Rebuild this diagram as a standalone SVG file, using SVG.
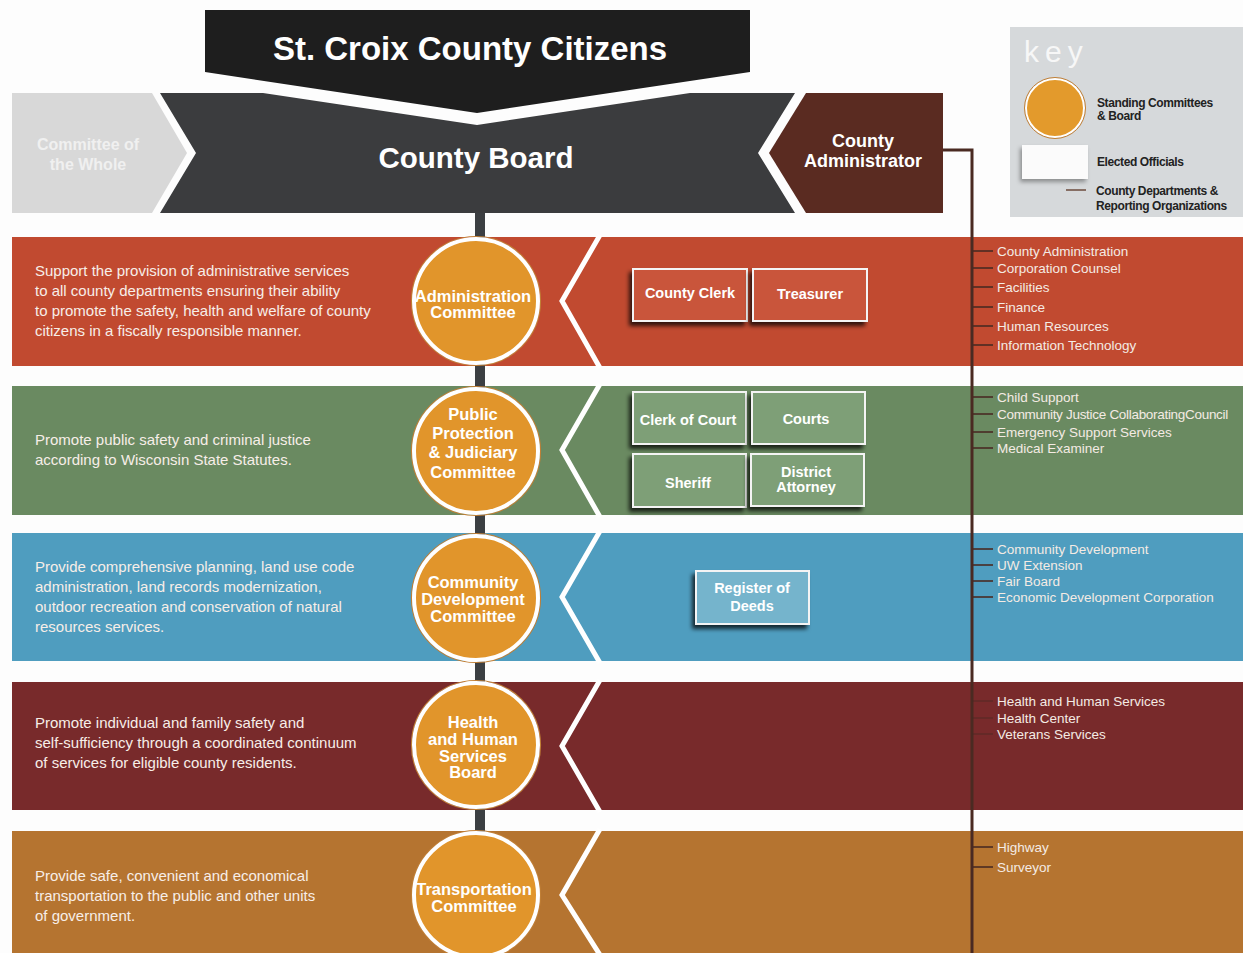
<svg xmlns="http://www.w3.org/2000/svg" width="1243" height="953" viewBox="0 0 1243 953">
  <defs>
    <filter id="shadow" x="-20%" y="-20%" width="140%" height="160%">
      <feDropShadow dx="-3" dy="4" stdDeviation="2" flood-color="#000" flood-opacity="0.75"/>
    </filter>
    <filter id="softShadow" x="-20%" y="-20%" width="140%" height="160%">
      <feDropShadow dx="-2" dy="3" stdDeviation="2" flood-color="#000" flood-opacity="0.35"/>
    </filter>
    <style>
      text { font-family: "Liberation Sans", Arial, sans-serif; }
      .band-text { fill: #f7eee8; font-size: 15px; }
      .dept { fill: #f4ebe4; font-size: 13.5px; }
      .tick { stroke: #4a2a22; stroke-width: 1.6; }
      .circle { fill: #e1952b; stroke: #ffffff; stroke-width: 4; }
      .ring { fill: none; stroke: #c07f36; stroke-width: 1.2; }
      .ctext { fill: #ffffff; font-size: 16.5px; font-weight: bold; text-anchor: middle; }
      .box { stroke: #f4f4f4; stroke-width: 2; filter: url(#shadow); }
      .btext { fill: #ffffff; font-size: 14.5px; font-weight: bold; text-anchor: middle; }
      .chev { fill: none; stroke: #ffffff; stroke-width: 5; }
      .key-label { fill: #222222; font-size: 12px; font-weight: bold; letter-spacing: -0.4px; }
    </style>
  </defs>

  <rect width="1243" height="953" fill="#fdfdfd"/>

  <!-- Horizontal committee bands -->
  <g id="bands">
    <rect x="12" y="237" width="1231" height="129" fill="#c14a30"/>
    <rect x="12" y="386" width="1231" height="129" fill="#6a8a61"/>
    <rect x="12" y="533" width="1231" height="128" fill="#4f9dbf"/>
    <rect x="12" y="682" width="1231" height="128" fill="#782a2b"/>
    <rect x="12" y="831" width="1231" height="122" fill="#b57430"/>
    <polyline class="chev" points="600,235 562,301 600,368"/>
    <polyline class="chev" points="600,384 562,450 600,517"/>
    <polyline class="chev" points="600,531 562,597 600,663"/>
    <polyline class="chev" points="600,680 562,746 600,812"/>
    <polyline class="chev" points="600,829 562,895 600,955"/>
  </g>

  <!-- Connectors -->
  <g id="connectors">
    <line x1="480" y1="210" x2="480" y2="900" stroke="#3c3f42" stroke-width="10"/>
    <polyline points="943,150 972,150 972,953" fill="none" stroke="#4a2a22" stroke-width="3"/>
    <line class="tick" x1="972" y1="251" x2="993" y2="251"/>
    <line class="tick" x1="972" y1="268" x2="993" y2="268"/>
    <line class="tick" x1="972" y1="287" x2="993" y2="287"/>
    <line class="tick" x1="972" y1="307" x2="993" y2="307"/>
    <line class="tick" x1="972" y1="326" x2="993" y2="326"/>
    <line class="tick" x1="972" y1="345" x2="993" y2="345"/>
    <line class="tick" x1="972" y1="397" x2="993" y2="397"/>
    <line class="tick" x1="972" y1="414" x2="993" y2="414"/>
    <line class="tick" x1="972" y1="432" x2="993" y2="432"/>
    <line class="tick" x1="972" y1="448" x2="993" y2="448"/>
    <line class="tick" x1="972" y1="549" x2="993" y2="549"/>
    <line class="tick" x1="972" y1="565" x2="993" y2="565"/>
    <line class="tick" x1="972" y1="581" x2="993" y2="581"/>
    <line class="tick" x1="972" y1="597" x2="993" y2="597"/>
    <line class="tick" x1="972" y1="701" x2="993" y2="701" opacity="0.5"/>
    <line class="tick" x1="972" y1="718" x2="993" y2="718" opacity="0.5"/>
    <line class="tick" x1="972" y1="734" x2="993" y2="734" opacity="0.5"/>
    <line class="tick" x1="972" y1="847" x2="993" y2="847"/>
    <line class="tick" x1="972" y1="867" x2="993" y2="867"/>
  </g>

  <!-- Citizens banner -->
  <g id="citizens">
    <polygon points="205,10 750,10 750,72 477,113 205,72" fill="#1e1e1e"/>
    <text x="470" y="60" fill="#ffffff" font-size="33" font-weight="bold" text-anchor="middle">St. Croix County Citizens</text>
  </g>

  <!-- Committee of the Whole -->
  <g id="committee-of-the-whole">
    <polygon points="12,93 152,93 187,153 152,213 12,213" fill="#d8d8d8"/>
    <text x="88" y="150" fill="#f0f0f0" font-size="16" font-weight="bold" text-anchor="middle">Committee of</text>
    <text x="88" y="170" fill="#f0f0f0" font-size="16" font-weight="bold" text-anchor="middle">the Whole</text>
  </g>

  <!-- County Board -->
  <g id="county-board">
    <polygon points="160,93 263,93 477,125 690,93 795,93 758,153 795,213 160,213 196,153" fill="#3b3c3e"/>
    <text x="476" y="168" fill="#ffffff" font-size="29.5" font-weight="bold" text-anchor="middle">County Board</text>
  </g>

  <!-- County Administrator -->
  <g id="county-administrator">
    <polygon points="806,93 943,93 943,213 806,213 769,153" fill="#5a2b21"/>
    <text x="863" y="147" fill="#ffffff" font-size="18" font-weight="bold" text-anchor="middle">County</text>
    <text x="863" y="167" fill="#ffffff" font-size="18" font-weight="bold" text-anchor="middle">Administrator</text>
  </g>

  <!-- Key -->
  <g id="key">
    <rect x="1010" y="27" width="233" height="190" fill="#d6d9db"/>
    <text x="1024" y="62" fill="#f7f7f7" font-size="30" letter-spacing="6">key</text>
    <circle cx="1055" cy="108" r="29" fill="#e39a2c" stroke="#ffffff" stroke-width="2"/>
    <circle cx="1055" cy="108" r="30.5" fill="none" stroke="#c07f36" stroke-width="1"/>
    <text class="key-label" x="1097" y="107">Standing Committees</text>
    <text class="key-label" x="1097" y="120">&amp; Board</text>
    <rect x="1022" y="145" width="66" height="34" fill="#fbfbfb" filter="url(#softShadow)"/>
    <text class="key-label" x="1097" y="166">Elected Officials</text>
    <line x1="1066" y1="190" x2="1086" y2="190" stroke="#6b4a3c" stroke-width="1.5"/>
    <text class="key-label" x="1096" y="195">County Departments &amp;</text>
    <text class="key-label" x="1096" y="210">Reporting Organizations</text>
  </g>

  <!-- Administration Committee -->
  <g id="administration">
    <text class="band-text" x="35" y="276">Support the provision of administrative services</text>
    <text class="band-text" x="35" y="296">to all county departments ensuring their ability</text>
    <text class="band-text" x="35" y="316">to promote the safety, health and welfare of county</text>
    <text class="band-text" x="35" y="336">citizens in a fiscally responsible manner.</text>
    <circle class="ring" cx="476" cy="301" r="64.5"/>
    <circle class="circle" cx="476" cy="301" r="62"/>
    <text class="ctext" x="473" y="302">Administration</text>
    <text class="ctext" x="473" y="318">Committee</text>
  </g>
  <g id="county-clerk">
    <rect class="box" x="633" y="269" width="114" height="52" fill="#c9553a"/>
    <text class="btext" x="690" y="298">County Clerk</text>
  </g>
  <g id="treasurer">
    <rect class="box" x="753" y="269" width="114" height="52" fill="#c9553a"/>
    <text class="btext" x="810" y="299">Treasurer</text>
  </g>
  <g id="administration-departments">
    <text class="dept" x="997" y="256">County Administration</text>
    <text class="dept" x="997" y="273">Corporation Counsel</text>
    <text class="dept" x="997" y="292">Facilities</text>
    <text class="dept" x="997" y="312">Finance</text>
    <text class="dept" x="997" y="331">Human Resources</text>
    <text class="dept" x="997" y="350">Information Technology</text>
  </g>

  <!-- Public Protection & Judiciary Committee -->
  <g id="public-protection">
    <text class="band-text" x="35" y="445">Promote public safety and criminal justice</text>
    <text class="band-text" x="35" y="465">according to Wisconsin State Statutes.</text>
    <circle class="ring" cx="476" cy="451" r="64.5"/>
    <circle class="circle" cx="476" cy="451" r="62"/>
    <text class="ctext" x="473" y="420">Public</text>
    <text class="ctext" x="473" y="439">Protection</text>
    <text class="ctext" x="473" y="458">&amp; Judiciary</text>
    <text class="ctext" x="473" y="478">Committee</text>
  </g>
  <g id="clerk-of-court">
    <rect class="box" x="633" y="392" width="113" height="52" fill="#7e9f77"/>
    <text class="btext" x="688" y="425">Clerk of Court</text>
  </g>
  <g id="courts">
    <rect class="box" x="752" y="392" width="113" height="52" fill="#7e9f77"/>
    <text class="btext" x="806" y="424">Courts</text>
  </g>
  <g id="sheriff">
    <rect class="box" x="633" y="454" width="113" height="53" fill="#7e9f77"/>
    <text class="btext" x="688" y="488">Sheriff</text>
  </g>
  <g id="district-attorney">
    <rect class="box" x="751" y="454" width="113" height="52" fill="#7e9f77"/>
    <text class="btext" x="806" y="477">District</text>
    <text class="btext" x="806" y="492">Attorney</text>
  </g>
  <g id="public-protection-departments">
    <text class="dept" x="997" y="402">Child Support</text>
    <text class="dept" x="997" y="419" letter-spacing="-0.3">Community Justice CollaboratingCouncil</text>
    <text class="dept" x="997" y="437">Emergency Support Services</text>
    <text class="dept" x="997" y="453">Medical Examiner</text>
  </g>

  <!-- Community Development Committee -->
  <g id="community-development">
    <text class="band-text" x="35" y="572">Provide comprehensive planning, land use code</text>
    <text class="band-text" x="35" y="592">administration, land records modernization,</text>
    <text class="band-text" x="35" y="612">outdoor recreation and conservation of natural</text>
    <text class="band-text" x="35" y="632">resources services.</text>
    <circle class="ring" cx="476" cy="598" r="64.5"/>
    <circle class="circle" cx="476" cy="598" r="62"/>
    <text class="ctext" x="473" y="588">Community</text>
    <text class="ctext" x="473" y="605">Development</text>
    <text class="ctext" x="473" y="622">Committee</text>
  </g>
  <g id="register-of-deeds">
    <rect class="box" x="696" y="571" width="113" height="53" fill="#74b4cc"/>
    <text class="btext" x="752" y="593">Register of</text>
    <text class="btext" x="752" y="611">Deeds</text>
  </g>
  <g id="community-development-departments">
    <text class="dept" x="997" y="554">Community Development</text>
    <text class="dept" x="997" y="570">UW Extension</text>
    <text class="dept" x="997" y="586">Fair Board</text>
    <text class="dept" x="997" y="602">Economic Development Corporation</text>
  </g>

  <!-- Health and Human Services Board -->
  <g id="health-human-services">
    <text class="band-text" x="35" y="728">Promote individual and family safety and</text>
    <text class="band-text" x="35" y="748">self-sufficiency through a coordinated continuum</text>
    <text class="band-text" x="35" y="768">of services for eligible county residents.</text>
    <circle class="ring" cx="476" cy="745" r="64.5"/>
    <circle class="circle" cx="476" cy="745" r="62"/>
    <text class="ctext" x="473" y="728">Health</text>
    <text class="ctext" x="473" y="745">and Human</text>
    <text class="ctext" x="473" y="762">Services</text>
    <text class="ctext" x="473" y="778">Board</text>
  </g>
  <g id="health-human-services-departments">
    <text class="dept" x="997" y="706">Health and Human Services</text>
    <text class="dept" x="997" y="723">Health Center</text>
    <text class="dept" x="997" y="739">Veterans Services</text>
  </g>

  <!-- Transportation Committee -->
  <g id="transportation">
    <text class="band-text" x="35" y="881">Provide safe, convenient and economical</text>
    <text class="band-text" x="35" y="901">transportation to the public and other units</text>
    <text class="band-text" x="35" y="921">of government.</text>
    <circle class="ring" cx="476" cy="895" r="64.5"/>
    <circle class="circle" cx="476" cy="895" r="62"/>
    <text class="ctext" x="474" y="895">Transportation</text>
    <text class="ctext" x="474" y="912">Committee</text>
  </g>
  <g id="transportation-departments">
    <text class="dept" x="997" y="852">Highway</text>
    <text class="dept" x="997" y="872">Surveyor</text>
  </g>
</svg>
